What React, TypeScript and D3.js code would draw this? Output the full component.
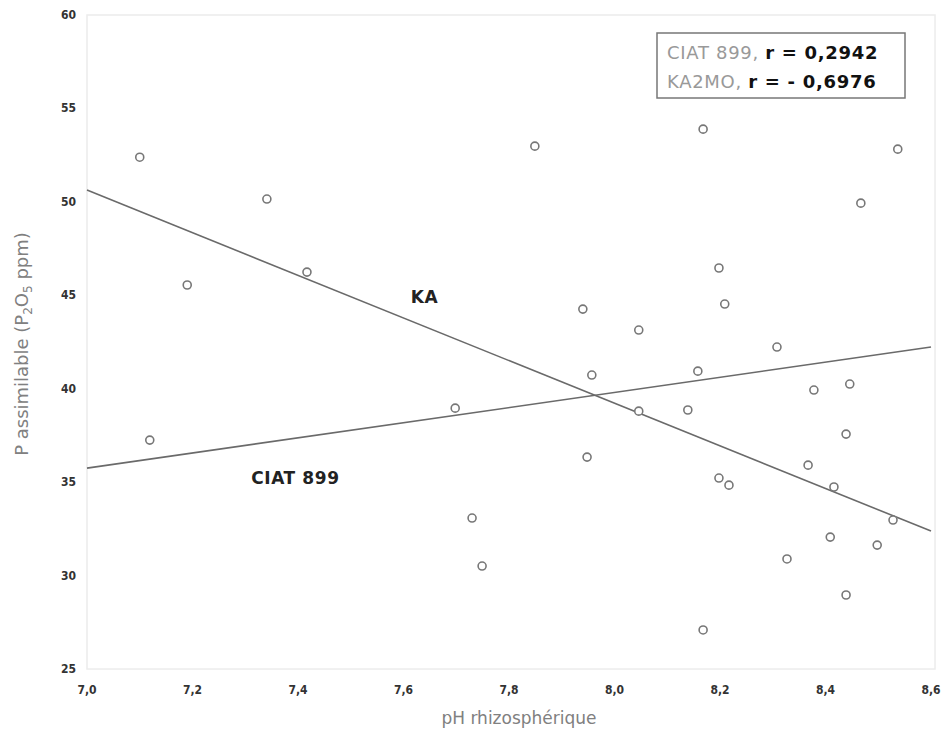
import React from "react";
import * as d3 from "d3";

// Rhizosphere pH vs available phosphorus (P2O5 ppm)
const phValues = [
  7.1, 7.119, 7.19, 7.341, 7.417, 7.698, 7.73, 7.749, 7.849, 7.94, 7.948, 7.957,
  8.046, 8.046, 8.139, 8.158, 8.168, 8.198, 8.209, 8.198, 8.217, 8.168, 8.308,
  8.327, 8.367, 8.378, 8.409, 8.416, 8.439, 8.446, 8.439, 8.467, 8.498, 8.528, 8.537,
];
const pValues = [
  52.39, 37.25, 45.55, 50.15, 46.24, 38.96, 33.08, 30.51, 52.98, 44.26, 36.34, 40.73,
  43.14, 38.8, 38.86, 40.94, 53.89, 46.46, 44.53, 35.22, 34.84, 27.09, 42.23,
  30.89, 35.91, 39.93, 32.06, 34.74, 37.57, 40.25, 28.96, 49.93, 31.63, 32.97, 52.82,
];

// Fitted regression lines, values at pH 7.0 and 8.6
const fitNames = ["CIAT 899", "KA"];
const fitStart = [35.75, 50.63];
const fitEnd = [42.23, 32.38];
const fitLabelAt = [
  [7.395, 34.9],
  [7.64, 44.6],
];

const legendNames = ["CIAT 899, ", "KA2MO, "];
const legendR = ["r = 0,2942", "r = - 0,6976"];

const xTicks = [7.0, 7.2, 7.4, 7.6, 7.8, 8.0, 8.2, 8.4, 8.6];
const yTicks = [25, 30, 35, 40, 45, 50, 55, 60];

const W = 946;
const H = 733;
const left = 87;
const right = 931;
const top = 15;
const bottom = 669;

export default function App() {
  const x = d3.scaleLinear().domain([7.0, 8.6]).range([left, right]);
  const y = d3.scaleLinear().domain([25, 60]).range([bottom, top]);
  const fmt = (v: number) => v.toFixed(1).replace(".", ",");
  const line = d3
    .line<[number, number]>()
    .x((d) => x(d[0]))
    .y((d) => y(d[1]));

  const tickFont = "'Liberation Sans Narrow', 'DejaVu Sans Condensed', 'Liberation Sans', sans-serif";
  const wideFont = "'DejaVu Sans', Verdana, sans-serif";

  return (
    <svg
      width={W}
      height={H}
      style={{ position: "absolute", left: 0, top: 0, background: "#fff" }}
      fontFamily={wideFont}
    >
      <rect x={0} y={0} width={W} height={H} fill="#fff" />
      {/* plot frame */}
      <rect
        x={left}
        y={top}
        width={right - left + 4}
        height={bottom - top}
        fill="none"
        stroke="#ececec"
        strokeWidth={1.5}
      />

      {/* y ticks */}
      {yTicks.map((t) => (
        <text
          key={"y" + t}
          x={76}
          y={y(t) + 4}
          textAnchor="end"
          fontSize={12}
          fontWeight="bold"
          fill="#333"
          fontFamily={tickFont}
        >
          {t}
        </text>
      ))}
      {/* x ticks */}
      {xTicks.map((t) => (
        <text
          key={"x" + t}
          x={x(t)}
          y={694}
          textAnchor="middle"
          fontSize={12}
          fontWeight="bold"
          fill="#333"
          fontFamily={tickFont}
        >
          {fmt(t)}
        </text>
      ))}

      {/* axis titles */}
      <text x={519} y={724} textAnchor="middle" fontSize={17} fill="#808080">
        pH rhizosphérique
      </text>
      <text
        transform={`translate(28, ${(top + bottom) / 2 + 2}) rotate(-90)`}
        textAnchor="middle"
        fontSize={18}
        fill="#808080"
      >
        P assimilable (P
        <tspan fontSize={12} dy={4}>2</tspan>
        <tspan dy={-4}>O</tspan>
        <tspan fontSize={12} dy={4}>5</tspan>
        <tspan dy={-4}> ppm)</tspan>
      </text>

      {/* regression lines */}
      {fitNames.map((n, i) => (
        <path
          key={"fit" + n}
          d={line([
            [7.0, fitStart[i]],
            [8.6, fitEnd[i]],
          ])!}
          fill="none"
          stroke="#6a6a6a"
          strokeWidth={1.6}
        />
      ))}
      {fitNames.map((n, i) => (
        <text
          key={"fl" + n}
          x={x(fitLabelAt[i][0])}
          y={y(fitLabelAt[i][1])}
          textAnchor="middle"
          fontSize={17}
          letterSpacing={0.6}
          fontWeight="bold"
          fill="#222"
        >
          {n}
        </text>
      ))}

      {/* points */}
      {phValues.map((v, i) => (
        <circle
          key={"p" + i}
          cx={x(v)}
          cy={y(pValues[i])}
          r={4}
          fill="#fff"
          stroke="#777"
          strokeWidth={1.6}
        />
      ))}

      {/* legend */}
      <rect x={657} y={33} width={248} height={65} fill="#fff" stroke="#777" strokeWidth={1.5} />
      {legendNames.map((n, i) => (
        <text key={"lg" + i} x={667} y={59 + i * 29} fontSize={18} letterSpacing={0.7}>
          <tspan fill="#999">{n}</tspan>
          <tspan fill="#111" fontWeight="bold">
            {legendR[i]}
          </tspan>
        </text>
      ))}
    </svg>
  );
}
